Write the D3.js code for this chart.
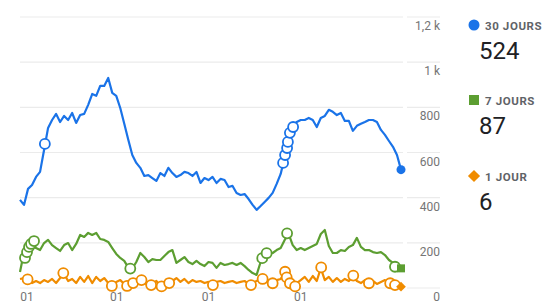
<html lang="fr">
<head>
<meta charset="UTF-8"/>
<title>Utilisateurs actifs</title>
<script src="https://d3js.org/d3.v7.min.js"></script>
<style>
    body { margin: 0; background: #ffffff; }
    svg { display: block; font-family: Roboto, "Noto Sans", sans-serif; }
</style>
</head>
<body>
<script>
    // values sampled along the x axis (index = sample position)
    var users30 = [390,368,439,456,492,514,611,709,744,771,735,762,744,775,731,766,771,811,859,851,
        895,895,930,864,851,797,727,656,589,554,532,496,500,487,474,509,496,532,509,492,
        500,514,509,496,514,465,487,478,492,465,483,478,447,452,421,412,416,394,368,346,
        363,381,399,421,461,505,580,691,718,735,744,744,753,744,713,753,762,789,780,766,
        775,740,740,696,718,727,735,744,744,735,700,678,651,625,589,524];
    var users7 = [71,159,190,204,177,168,199,213,190,177,164,190,199,168,195,235,226,244,235,244,
        217,213,204,177,151,133,120,90,86,115,155,137,115,128,124,124,142,159,168,111,
        124,137,115,106,120,106,97,115,111,89,111,102,106,111,102,111,97,80,66,58,
        115,142,151,155,168,177,213,239,190,168,177,168,177,186,195,239,257,186,155,155,
        168,164,182,190,222,182,168,168,159,155,159,146,124,111,93,87];
    var users1 = [40,44,40,22,31,22,35,27,40,22,44,62,31,40,22,49,27,53,22,49,
        31,44,22,9,27,35,18,9,22,31,35,22,13,18,31,9,27,22,31,44,
        27,40,22,35,27,31,22,27,18,27,31,22,27,31,22,27,31,18,22,31,
        40,44,31,22,35,40,70,40,13,22,35,49,27,53,31,88,35,49,27,44,
        27,40,31,52,31,22,35,22,31,18,27,35,22,18,13,6];

    // hollow markers [index, value]
    var marks30 = [[6.2,638],[65.6,554],[66.1,589],[66.6,620],[66.8,647],[67.3,687],[68.1,713]];
    var marks7 = [[1.25,133],[1.75,159],[2.25,182],[2.75,195],[3.5,208],[27.5,86],
        [60.4,132],[61.5,154],[66.6,242],[93.5,94]];
    var marks1 = [[1.9,38],[10.8,66],[22.9,9],[26.7,9],[28.2,22],[30.3,35],[32.7,13],
        [35.3,7],[37.2,22],[48.1,13],[57.6,13],[60.5,40],[63,21],[66.1,72],[66.5,47],
        [67.3,21],[68.6,7],[75.1,91],[83.1,55],[87,21],[92.3,21],[93.5,13]];

    var yTicks = [0, 200, 400, 600, 800, 1000, 1200];
    var yTickLabels = ["0", "200", "400", "600", "800", "1 k", "1,2 k"];
    var xTickPos = [1.75, 24.1, 47, 70];
    var xTickLabels = ["01", "01", "01", "01"];

    var legendNames = ["30 JOURS", "7 JOURS", "1 JOUR"];
    var legendValues = ["524", "87", "6"];

    var w = 546, h = 304;
    var blue = "#1a73e8", green = "#5c9e31", orange = "#f08c00";

    var svg = d3.select("body").append("svg")
        .attr("width", w)
        .attr("height", h);

    var xScale = d3.scaleLinear()
        .domain([0, users30.length - 1])
        .range([20, 401]);

    var yScale = d3.scaleLinear()
        .domain([0, 1200])
        .range([288, 17]);

    // gridlines
    svg.selectAll("line.grid")
        .data(yTicks)
        .enter()
        .append("line")
        .attr("class", "grid")
        .attr("x1", 20).attr("x2", 403)
        .attr("y1", function(d){ return yScale(d); })
        .attr("y2", function(d){ return yScale(d); })
        .attr("stroke", "#ebebeb").attr("stroke-width", 1.2);

    svg.selectAll("line.grid2")
        .data(yTicks)
        .enter()
        .append("line")
        .attr("class", "grid2")
        .attr("x1", 407).attr("x2", 440)
        .attr("y1", function(d){ return yScale(d); })
        .attr("y2", function(d){ return yScale(d); })
        .attr("stroke", "#ebebeb").attr("stroke-width", 1.2);

    // right axis labels
    svg.selectAll("text.ylab")
        .data(yTicks)
        .enter()
        .append("text")
        .attr("class", "ylab")
        .attr("x", 440)
        .attr("y", function(d){ return yScale(d) + 13; })
        .attr("text-anchor", "end")
        .attr("font-size", 12)
        .attr("fill", "#757575")
        .text(function(d, i){ return yTickLabels[i]; });

    // bottom labels
    svg.selectAll("text.xlab")
        .data(xTickPos)
        .enter()
        .append("text")
        .attr("class", "xlab")
        .attr("x", function(d){ return xScale(d); })
        .attr("y", 301)
        .attr("text-anchor", "middle")
        .attr("font-size", 12)
        .attr("fill", "#757575")
        .text(function(d, i){ return xTickLabels[i]; });

    var line = d3.line()
        .x(function(d, i){ return xScale(i); })
        .y(function(d){ return yScale(d); });

    function drawSeries(values, marks, color) {
        svg.append("path")
            .datum(values)
            .attr("d", line)
            .attr("fill", "none")
            .attr("stroke", color)
            .attr("stroke-width", 2.2)
            .attr("stroke-linejoin", "round");

        svg.selectAll(null)
            .data(marks)
            .enter()
            .append("circle")
            .attr("cx", function(d){ return xScale(d[0]); })
            .attr("cy", function(d){ return yScale(d[1]); })
            .attr("r", 5)
            .attr("fill", "#ffffff")
            .attr("stroke", color)
            .attr("stroke-width", 1.8);
    }

    drawSeries(users1, marks1, orange);
    drawSeries(users7, marks7, green);
    drawSeries(users30, marks30, blue);

    // end markers
    var last = users30.length - 1;
    svg.append("circle")
        .attr("cx", xScale(last)).attr("cy", yScale(users30[last]))
        .attr("r", 4.5).attr("fill", blue);
    svg.append("rect")
        .attr("x", xScale(last) - 4).attr("y", yScale(users7[last]) - 4)
        .attr("width", 8).attr("height", 8).attr("fill", green);
    svg.append("path")
        .attr("d", d3.symbol().type(d3.symbolDiamond2).size(60)())
        .attr("transform", "translate(" + xScale(last) + "," + yScale(users1[last]) + ")")
        .attr("fill", orange);

    // legend
    var legendY = [25, 100, 176];
    var legendColors = [blue, green, orange];
    var legend = svg.selectAll("g.leg")
        .data(legendNames)
        .enter()
        .append("g")
        .attr("class", "leg")
        .attr("transform", function(d, i){ return "translate(474," + legendY[i] + ")"; });

    legend.each(function(d, i){
        var g = d3.select(this);
        if (i == 0) {
            g.append("circle").attr("r", 5.5).attr("fill", legendColors[i]);
        } else if (i == 1) {
            g.append("rect").attr("x", -5).attr("y", -5).attr("width", 10).attr("height", 10)
                .attr("fill", legendColors[i]);
        } else {
            g.append("path").attr("d", d3.symbol().type(d3.symbolDiamond2).size(95)())
                .attr("fill", legendColors[i]);
        }
        g.append("text")
            .attr("x", 11).attr("y", 4.5)
            .attr("font-size", 11.5)
            .attr("font-weight", "bold")
            .attr("letter-spacing", 0.6)
            .attr("fill", "#5f6368")
            .text(d);
        g.append("text")
            .attr("x", 5).attr("y", 34)
            .attr("font-size", 24)
            .attr("fill", "#202124")
            .text(legendValues[i]);
    });
</script>
</body>
</html>
